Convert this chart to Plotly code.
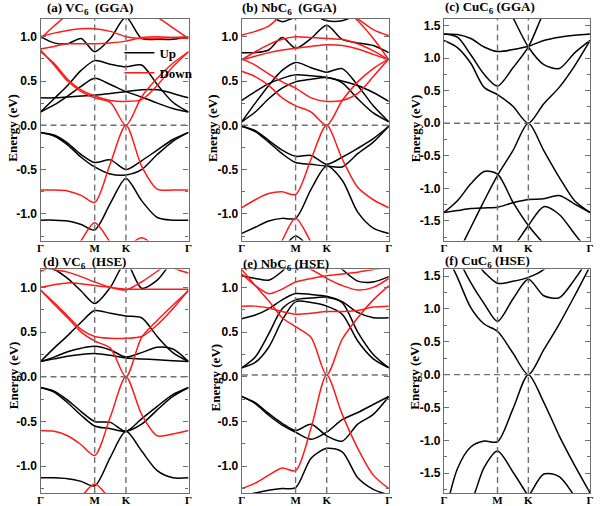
import numpy as np
import plotly.graph_objects as go

# ---------------- k-path  Γ-M-K-Γ (hexagonal BZ, relative lengths) ----------
seg_GM = 1.0
seg_MK = 1.0 / np.sqrt(3)
seg_KG = 2.0 / np.sqrt(3)
kM = seg_GM
kK = kM + seg_MK
kE = kK + seg_KG
k = [0.0, 0.25 * seg_GM, 0.5 * seg_GM, 0.75 * seg_GM, kM,
     kM + 0.5 * seg_MK, kK,
     kK + 0.25 * seg_KG, kK + 0.5 * seg_KG, kK + 0.75 * seg_KG, kE]
k_ticks = [0.0, kM, kK, kE]
k_labels = ["Γ", "M", "K", "Γ"]

# ---------------- band energies (eV) at the 11 k samples ---------------------
a_up = [
    [-0.08, -0.11, -0.20, -0.33, -0.42, -0.39, -0.50, -0.40, -0.28, -0.16, -0.08],
    [-0.08, -0.12, -0.22, -0.36, -0.47, -0.55, -0.56, -0.50, -0.33, -0.18, -0.08],
    [-1.07, -1.07, -1.08, -1.12, -1.18, -0.88, -0.60, -0.85, -1.04, -1.07, -1.07],
    [0.15, 0.23, 0.33, 0.44, 0.53, 0.46, 0.38, 0.32, 0.25, 0.19, 0.15],
    [0.31, 0.31, 0.32, 0.33, 0.34, 0.36, 0.38, 0.40, 0.40, 0.36, 0.31],
    [0.15, 0.30, 0.45, 0.62, 0.73, 0.69, 0.66, 0.68, 0.46, 0.26, 0.15],
    [1.00, 0.93, 0.92, 0.98, 0.83, 0.98, 1.22, 0.98, 0.97, 0.97, 1.00],
]
a_down = [
    [-0.73, -0.73, -0.74, -0.79, -0.87, -0.43, 0.00, -0.46, -0.72, -0.73, -0.73],
    [-1.75, -1.70, -1.55, -1.30, -1.10, -1.32, -1.55, -1.70, -1.75, -1.75, -1.75],
    [-1.60, -1.60, -1.60, -1.60, -1.60, -1.50, -1.38, -1.27, -1.38, -1.50, -1.60],
    [0.85, 0.68, 0.50, 0.38, 0.31, 0.26, 0.00, 0.32, 0.53, 0.70, 0.83],
    [0.83, 0.70, 0.52, 0.40, 0.33, 0.28, 0.27, 0.29, 0.45, 0.66, 0.83],
    [1.00, 1.04, 1.07, 1.09, 1.09, 1.06, 1.00, 0.98, 0.98, 0.99, 1.00],
    [0.86, 0.89, 0.92, 0.92, 0.92, 0.93, 0.95, 0.99, 1.00, 0.99, 0.98],
    [0.98, 1.12, 1.25, 1.35, 1.40, 1.40, 1.35, 1.30, 1.22, 1.10, 0.98],
]
b_up = [
    [-0.01, -0.06, -0.17, -0.28, -0.35, -0.34, -0.44, -0.36, -0.26, -0.15, -0.01],
    [-0.01, -0.07, -0.19, -0.32, -0.42, -0.44, -0.46, -0.47, -0.32, -0.19, -0.01],
    [-1.22, -1.15, -1.08, -1.05, -1.05, -0.72, -0.46, -0.62, -0.98, -1.16, -1.22],
    [-1.70, -1.65, -1.55, -1.40, -1.25, -1.40, -1.60, -1.70, -1.75, -1.75, -1.75],
    [0.04, 0.25, 0.45, 0.62, 0.71, 0.65, 0.60, 0.64, 0.45, 0.22, 0.04],
    [0.28, 0.38, 0.47, 0.53, 0.57, 0.56, 0.54, 0.50, 0.45, 0.37, 0.27],
    [0.04, 0.15, 0.30, 0.42, 0.49, 0.52, 0.54, 0.48, 0.30, 0.14, 0.04],
    [0.82, 0.82, 0.85, 0.99, 0.87, 0.98, 1.13, 0.97, 0.93, 0.90, 0.82],
    [1.40, 1.35, 1.25, 1.17, 1.22, 1.25, 1.18, 1.18, 1.25, 1.35, 1.40],
]
b_down = [
    [-0.93, -0.84, -0.77, -0.75, -0.78, -0.38, 0.00, -0.38, -0.70, -0.84, -0.93],
    [-1.90, -1.80, -1.60, -1.30, -1.05, -1.32, -1.60, -1.85, -1.90, -1.90, -1.90],
    [0.61, 0.55, 0.45, 0.31, 0.22, 0.15, 0.00, 0.28, 0.49, 0.64, 0.75],
    [0.75, 0.68, 0.58, 0.49, 0.42, 0.31, 0.27, 0.28, 0.36, 0.55, 0.75],
    [0.74, 0.83, 0.91, 0.97, 1.00, 0.99, 0.98, 0.97, 0.92, 0.84, 0.74],
    [0.74, 0.78, 0.82, 0.85, 0.87, 0.89, 0.91, 0.90, 0.86, 0.80, 0.74],
    [1.02, 1.06, 1.12, 1.25, 1.35, 1.40, 1.35, 1.30, 1.20, 1.08, 1.01],
    [1.50, 1.50, 1.45, 1.40, 1.35, 1.35, 1.35, 1.32, 1.18, 0.98, 0.74],
]
c_up = [
    [1.37, 1.36, 1.30, 1.17, 1.10, 1.13, 1.18, 1.27, 1.32, 1.35, 1.37],
    [1.37, 1.32, 1.05, 0.75, 0.57, 0.85, 1.17, 1.70, 2.10, 2.40, 2.60],
    [2.50, 2.40, 2.30, 2.20, 2.05, 1.62, 1.17, 0.90, 0.84, 1.08, 1.27],
    [1.27, 1.16, 0.92, 0.55, 0.44, 0.26, 0.00, 0.30, 0.55, 0.88, 1.27],
    [-2.30, -2.00, -1.60, -1.19, -0.80, -0.42, 0.00, -0.42, -0.83, -1.19, -1.37],
    [-1.37, -1.19, -0.93, -0.74, -0.78, -1.21, -1.57, -1.85, -2.10, -2.30, -2.40],
    [-1.37, -1.34, -1.31, -1.30, -1.29, -1.22, -1.17, -1.16, -1.11, -1.24, -1.37],
    [-2.50, -2.40, -2.30, -2.20, -2.10, -1.90, -1.57, -1.28, -1.40, -1.70, -2.00],
]
c_down = []
d_up = [
    [-0.12, -0.16, -0.26, -0.39, -0.50, -0.51, -0.61, -0.47, -0.33, -0.20, -0.12],
    [-0.12, -0.17, -0.29, -0.43, -0.55, -0.58, -0.61, -0.53, -0.37, -0.22, -0.12],
    [-1.13, -1.13, -1.14, -1.17, -1.22, -0.90, -0.61, -0.83, -1.05, -1.13, -1.13],
    [0.17, 0.32, 0.46, 0.61, 0.74, 0.71, 0.68, 0.66, 0.45, 0.27, 0.17],
    [0.17, 0.22, 0.28, 0.32, 0.34, 0.30, 0.22, 0.27, 0.33, 0.31, 0.17],
    [0.17, 0.20, 0.23, 0.25, 0.26, 0.24, 0.21, 0.20, 0.19, 0.18, 0.17],
    [1.22, 1.20, 1.10, 0.96, 0.82, 1.00, 1.28, 0.99, 1.08, 1.30, 1.45],
]
d_down = [
    [-0.60, -0.61, -0.66, -0.76, -0.88, -0.45, 0.00, -0.42, -0.66, -0.64, -0.60],
    [-1.90, -1.80, -1.60, -1.35, -1.20, -1.38, -1.70, -1.90, -1.90, -1.90, -1.90],
    [0.97, 0.81, 0.66, 0.50, 0.40, 0.32, 0.00, 0.44, 0.63, 0.80, 0.96],
    [0.97, 0.83, 0.68, 0.53, 0.45, 0.43, 0.43, 0.45, 0.58, 0.76, 0.97],
    [1.00, 1.03, 1.05, 1.04, 1.02, 1.00, 0.98, 0.98, 0.98, 0.98, 0.98],
    [1.22, 1.20, 1.17, 1.12, 1.06, 1.00, 0.97, 1.06, 1.18, 1.30, 1.40],
    [1.18, 1.25, 1.35, 1.45, 1.50, 1.50, 1.50, 1.45, 1.35, 1.22, 1.16],
]
e_up = [
    [-0.22, -0.29, -0.41, -0.52, -0.60, -0.53, -0.66, -0.72, -0.53, -0.42, -0.22],
    [-0.22, -0.30, -0.43, -0.54, -0.62, -0.70, -0.62, -0.48, -0.40, -0.31, -0.22],
    [-1.33, -1.30, -1.27, -1.25, -1.24, -0.91, -0.80, -0.84, -1.13, -1.26, -1.32],
    [0.10, 0.22, 0.48, 0.76, 0.86, 0.88, 0.89, 0.83, 0.50, 0.25, 0.10],
    [0.10, 0.16, 0.33, 0.63, 0.84, 0.83, 0.79, 0.70, 0.40, 0.20, 0.10],
    [0.65, 0.69, 0.76, 0.86, 0.93, 0.92, 0.90, 0.84, 0.72, 0.66, 0.66],
    [1.13, 1.10, 1.08, 1.18, 1.35, 1.45, 1.35, 1.20, 1.07, 1.06, 1.12],
]
e_down = [
    [-1.25, -1.19, -1.10, -1.02, -1.05, -0.57, 0.02, -0.42, -0.80, -1.10, -1.25],
    [1.20, 1.02, 0.85, 0.66, 0.56, 0.44, 0.02, 0.42, 0.66, 0.86, 1.02],
    [0.79, 0.79, 0.77, 0.73, 0.70, 0.71, 0.73, 0.73, 0.74, 0.78, 0.79],
    [1.15, 1.02, 0.93, 0.98, 1.06, 1.10, 1.13, 1.15, 1.17, 1.20, 1.22],
    [1.60, 1.50, 1.40, 1.30, 1.25, 1.20, 1.10, 1.02, 0.97, 1.00, 1.10],
]
f_up = [
    [1.90, 1.48, 1.02, 0.77, 0.66, 0.33, 0.00, 0.38, 0.77, 1.20, 1.65],
    [2.30, 1.80, 1.40, 1.08, 0.81, 1.15, 1.45, 1.20, 1.17, 1.45, 1.80],
    [2.20, 2.00, 1.80, 1.56, 1.39, 1.42, 1.48, 1.60, 1.90, 2.20, 2.40],
    [-2.20, -1.43, -1.10, -1.01, -1.02, -0.52, 0.00, -0.42, -0.93, -1.38, -1.80],
    [-2.50, -2.20, -1.95, -1.41, -1.16, -1.48, -1.85, -2.20, -2.40, -2.50, -2.50],
    [-2.50, -2.50, -2.50, -2.40, -2.30, -2.10, -1.85, -1.51, -1.55, -1.85, -2.20],
]
f_down = []

titles = ["(a) VC<sub>6</sub>\u00a0\u00a0(GGA)", "(b) NbC<sub>6</sub>\u00a0\u00a0(GGA)",
          "(c) CuC<sub>6</sub>\u00a0(GGA)", "(d) VC<sub>6</sub>\u00a0\u00a0(HSE)",
          "(e) NbC<sub>6</sub>\u00a0(HSE)", "(f) CuC<sub>6</sub>\u00a0(HSE)"]
ranges = [[-1.3, 1.2], [-1.3, 1.2], [-1.8, 1.6], [-1.3, 1.2], [-1.3, 1.2], [-1.8, 1.6]]
ticks_small = [-1.0, -0.5, 0.0, 0.5, 1.0]
ticks_large = [-1.5, -1.0, -0.5, 0.0, 0.5, 1.0, 1.5]
fermi = [0.0, 0.0, 0.0, 0.0, 0.02, 0.0]
ups = [a_up, b_up, c_up, d_up, e_up, f_up]
downs = [a_down, b_down, c_down, d_down, e_down, f_down]

# ---------------- layout geometry ---------------------------------------------
W, H = 600, 506
col_px = [(37, 187), (241, 390), (446, 594)]
row_px = [(19, 241), (270, 494)]
title_px = [(42, 9), (239, 9), (445, 8), (37, 263), (240, 265), (445, 262)]
ylab_px = [(9, 128), (212, 128), (417, 128), (9, 376), (214, 378), (416, 376)]

SERIF = "Liberation Serif, Times New Roman, serif"
SANS = "Liberation Sans, Arial, sans-serif"
FRAME = "#6e6e6e"
RED = "#ff1a1a"

fig = go.Figure()
layout = dict(width=W, height=H, margin=dict(l=0, r=0, t=0, b=0),
              paper_bgcolor="white", plot_bgcolor="white",
              annotations=[], shapes=[])

for i in range(6):
    r, c = divmod(i, 3)
    n = "" if i == 0 else str(i + 1)
    xa, ya = "x" + n, "y" + n
    x0, x1 = col_px[c]
    y0, y1 = row_px[r]
    big = ranges[i][1] > 1.4
    tv = ticks_large if big else ticks_small
    layout["xaxis" + n] = dict(
        domain=[x0 / W, x1 / W], range=[0, kE], anchor=ya,
        tickvals=k_ticks, ticktext=k_labels, ticks="", ticklabelstandoff=-3,
        tickfont=dict(family=SERIF, size=11, color="black", weight="bold"),
        showline=True, mirror=True, linecolor=FRAME, linewidth=1.3,
        showgrid=False, zeroline=False, fixedrange=True)
    layout["yaxis" + n] = dict(
        domain=[1 - y1 / H, 1 - y0 / H], range=ranges[i], anchor=xa,
        tickvals=tv, ticktext=["%.1f" % v for v in tv],
        ticks="inside", ticklen=5, tickwidth=1, tickcolor=FRAME,
        minor=dict(tickmode="linear", tick0=0, dtick=0.25, ticks="inside",
                   ticklen=3, tickcolor=FRAME),
        tickfont=dict(family=SANS, size=12, color="black", weight="bold"),
        showline=True, mirror="ticks", linecolor=FRAME, linewidth=1.3,
        showgrid=False, zeroline=False, fixedrange=True)

    for j, band in enumerate(ups[i]):
        fig.add_trace(go.Scatter(
            x=k, y=band, mode="lines", xaxis=xa, yaxis=ya,
            line=dict(color="black", width=1.5, shape="spline", smoothing=0.8),
            name="Up", showlegend=(i == 0 and j == 0), hoverinfo="skip"))
    for j, band in enumerate(downs[i]):
        fig.add_trace(go.Scatter(
            x=k, y=band, mode="lines", xaxis=xa, yaxis=ya,
            line=dict(color=RED, width=1.5, shape="spline", smoothing=0.8),
            name="Down", showlegend=(i == 0 and j == 0), hoverinfo="skip"))

    dash = dict(color="#707070", width=1.4, dash="6px,4px")
    for kv in (kM, kK):
        layout["shapes"].append(dict(type="line", xref=xa, yref=ya + " domain",
                                     x0=kv, x1=kv, y0=0, y1=1, line=dash, layer="above"))
    layout["shapes"].append(dict(type="line", xref=xa + " domain", yref=ya,
                                 x0=0, x1=1, y0=fermi[i], y1=fermi[i], line=dash, layer="above"))

    tx, ty = title_px[i]
    layout["annotations"].append(dict(
        text="<b>" + titles[i] + "</b>", xref="paper", yref="paper",
        x=tx / W, y=1 - ty / H, xanchor="left", yanchor="middle", showarrow=False,
        font=dict(family=SERIF, size=13, color="black")))
    lx, ly = ylab_px[i]
    layout["annotations"].append(dict(
        text="<b>Energy (eV)</b>", xref="paper", yref="paper", textangle=-90,
        x=lx / W, y=1 - ly / H, xanchor="center", yanchor="middle", showarrow=False,
        font=dict(family=SERIF, size=13, color="black")))

layout["legend"] = dict(x=117 / W, y=1 - 38 / H, xanchor="left", yanchor="top",
                        bgcolor="rgba(0,0,0,0)", borderwidth=0, itemwidth=30,
                        tracegroupgap=0,
                        font=dict(family=SERIF, size=13, color="black", weight="bold"))
fig.update_layout(**layout)
fig.write_html("out.html")
